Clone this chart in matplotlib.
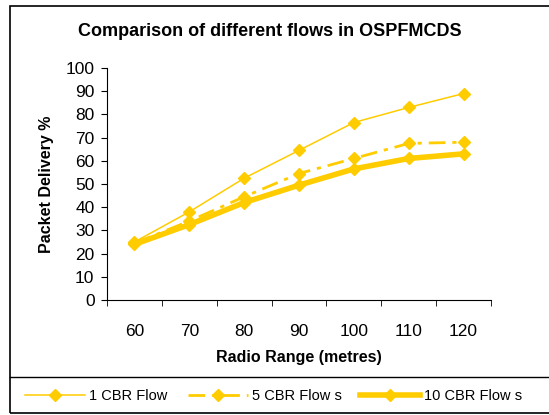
import numpy as np
import matplotlib.pyplot as plt
from matplotlib.patches import Rectangle
from matplotlib.lines import Line2D

plt.rcParams['font.family'] = ['Liberation Sans', 'DejaVu Sans']

ranges = [60, 70, 80, 90, 100, 110, 120]
flow_1 = [25, 38, 52.5, 64.5, 76.5, 83, 89]
flow_5 = [24.5, 34, 44.5, 54.5, 61, 67.5, 68]
flow_10 = [24, 32.5, 42, 49.5, 56.5, 61, 63]

gold = '#FFCC00'
W, H = 549, 415

fig = plt.figure(figsize=(W / 100, H / 100), dpi=100)

# outer chart frame and legend separator
fig.add_artist(Rectangle((10 / W, 1 - 413 / H), 560 / W, 407 / H,
                         transform=fig.transFigure, fill=False,
                         edgecolor='black', linewidth=1.2))
fig.add_artist(Line2D([10 / W, 1], [1 - 377 / H] * 2,
                      transform=fig.transFigure, color='black', linewidth=1))

ax = fig.add_axes([107 / W, 1 - 300 / H, (491 - 107) / W, (300 - 68) / H])
x = np.arange(len(ranges))

l1, = ax.plot(x, flow_1, color=gold, lw=1.1, marker='D', ms=6.5,
              label='1 CBR Flow')
l5, = ax.plot(x, flow_5, color=gold, lw=2, marker='D', ms=6.5,
              dashes=[6, 2.5, 1.5, 2.5], label='5 CBR Flow s')
l10, = ax.plot(x, flow_10, color=gold, lw=4, marker='D', ms=6.5,
               label='10 CBR Flow s')

ax.set_xlim(-0.5, len(ranges) - 0.5)
ax.set_ylim(0, 100)
ax.set_yticks(range(0, 101, 10))
ax.set_xticks(x)
ax.set_xticklabels([str(r) for r in ranges])
ax.set_xticks(np.arange(-0.5, len(ranges)), minor=True)
ax.tick_params(axis='x', which='major', length=0, pad=17, labelsize=12.5)
ax.tick_params(axis='x', which='minor', length=4, direction='out')
ax.tick_params(axis='y', length=4, direction='out', labelsize=12.5, pad=5)

for s in ['top', 'right']:
    ax.spines[s].set_visible(False)

ax.set_xlabel('Radio Range (metres)', fontsize=11.5, fontweight='bold', labelpad=8)
ax.set_ylabel('Packet Delivery %', fontsize=11.5, fontweight='bold', labelpad=8)
fig.text(270 / W, 1 - 32 / H, 'Comparison of different flows in OSPFMCDS',
         ha='center', va='center', fontsize=13, fontweight='bold')

# one legend per entry so each sits where the chart's legend strip puts it
for handle, left in [(l1, 25), (l5, 188), (l10, 360)]:
    fig.legend(handles=[handle], loc='center left',
               bbox_to_anchor=(left / W, 1 - 396 / H), frameon=False,
               handlelength=4.1, handletextpad=0.3, borderpad=0,
               borderaxespad=0, fontsize=10.5)

fig.savefig('out.png', dpi=100)
